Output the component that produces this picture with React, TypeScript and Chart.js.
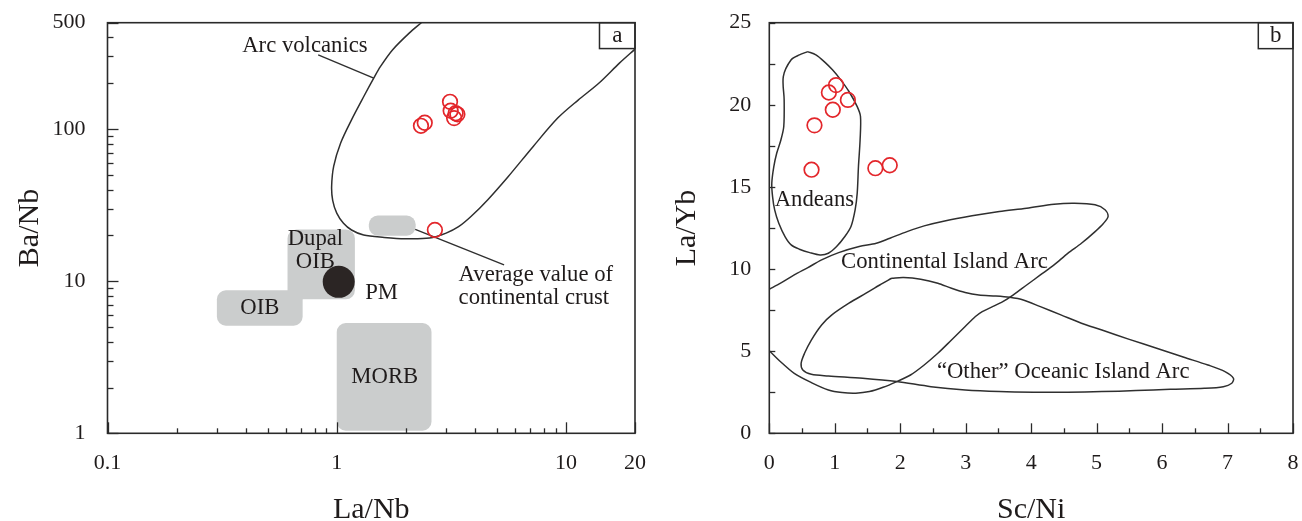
import { useEffect, useRef } from 'react';
import { Chart, registerables } from 'chart.js';

Chart.register(...registerables);

const SERIF = '"Liberation Serif", "Times New Roman", Times, serif';
const INK = '#1f1b1b';
const CURVE = '#2f2f2f';
const FRAME = '#2a2a2a';
const FIELD_GREY = '#cbcdcd';
const SAMPLE_RED = '#e3262b';
const PM_FILL = '#2b2524';

// ---------------- Panel a : Ba/Nb vs La/Nb (log-log) ----------------
const aXTicks = [0.1, 1, 10, 20];
const aXTickLabels = ['0.1', '1', '10', '20'];
const aXMinor = [0.2, 0.3, 0.4, 0.5, 0.6, 0.7, 0.8, 0.9, 2, 3, 4, 5, 6, 7, 8, 9];
const aYTicks = [1, 10, 100, 500];
const aYTickLabels = ['1', '10', '100', '500'];
const aYMinor = [2, 3, 4, 5, 6, 7, 8, 9, 20, 30, 40, 50, 60, 70, 80, 90, 200, 300, 400];

const arcVolcanics = [
  { x: 2.34, y: 500 }, { x: 2.07, y: 427 }, { x: 1.75, y: 331 }, { x: 1.55, y: 257 },
  { x: 1.45, y: 216 }, { x: 1.31, y: 163 }, { x: 1.16, y: 115 }, { x: 1.04, y: 81 },
  { x: 0.97, y: 57 }, { x: 0.95, y: 42 }, { x: 0.96, y: 34 }, { x: 1.0, y: 28 },
  { x: 1.07, y: 24 }, { x: 1.16, y: 21.7 }, { x: 1.31, y: 20.1 }, { x: 1.61, y: 19.4 },
  { x: 1.98, y: 19.0 }, { x: 2.54, y: 19.2 }, { x: 3.0, y: 20.7 }, { x: 3.4, y: 22.8 },
  { x: 3.85, y: 26.6 }, { x: 4.55, y: 34.2 }, { x: 5.59, y: 48.6 }, { x: 7.18, y: 76.6 },
  { x: 9.2, y: 118 }, { x: 11.3, y: 155 }, { x: 13.9, y: 200 }, { x: 17.1, y: 271 },
  { x: 20, y: 335 },
];
const samplesA = [
  { x: 3.12, y: 151 }, { x: 3.14, y: 132 }, { x: 3.3, y: 127 }, { x: 3.36, y: 125 },
  { x: 3.25, y: 118 }, { x: 2.33, y: 105 }, { x: 2.42, y: 110 }, { x: 2.68, y: 21.7 },
];
const primitiveMantle = [{ x: 1.02, y: 9.9 }];
const arcLeader = [{ x: 0.83, y: 307 }, { x: 1.45, y: 216 }];
const crustLeader = [{ x: 2.2, y: 21.9 }, { x: 5.37, y: 12.8 }];
const fieldsA = [
  { x0: 1.38, x1: 2.21, y0: 19.9, y1: 27.0 }, // average continental crust
  { x0: 0.61, x1: 1.2, y0: 7.6, y1: 21.9 }, // Dupal OIB
  { x0: 0.3, x1: 0.71, y0: 5.1, y1: 8.7 }, // OIB
  { x0: 1.0, x1: 2.59, y0: 1.04, y1: 5.3 }, // MORB
];
const labelsA = [
  { text: 'Arc volcanics', x: 0.387, y: 352, align: 'left' },
  { text: 'Dupal', x: 0.807, y: 18.9, align: 'center' },
  { text: 'OIB', x: 0.807, y: 13.4, align: 'center' },
  { text: 'OIB', x: 0.462, y: 6.7, align: 'center' },
  { text: 'PM', x: 1.33, y: 8.4, align: 'left' },
  { text: 'MORB', x: 1.62, y: 2.36, align: 'center' },
  { text: 'Average value of', x: 3.4, y: 11.0, align: 'left' },
  { text: 'continental crust', x: 3.4, y: 7.72, align: 'left' },
];
const panelA = { text: 'a', x0: 14.0, y0: 338 };

// ---------------- Panel b : La/Yb vs Sc/Ni (linear) ----------------
const bXTicks = [0, 1, 2, 3, 4, 5, 6, 7, 8];
const bXTickLabels = ['0', '1', '2', '3', '4', '5', '6', '7', '8'];
const bXMinor = [0.5, 1.5, 2.5, 3.5, 4.5, 5.5, 6.5, 7.5];
const bYTicks = [0, 5, 10, 15, 20, 25];
const bYTickLabels = ['0', '5', '10', '15', '20', '25'];
const bYMinor = [2.5, 7.5, 12.5, 17.5, 22.5];

const andeans = [
  { x: 0.586, y: 23.24 }, { x: 0.712, y: 23.04 }, { x: 0.839, y: 22.63 }, { x: 0.965, y: 22.13 },
  { x: 1.091, y: 21.52 }, { x: 1.217, y: 20.81 }, { x: 1.343, y: 19.89 }, { x: 1.393, y: 19.29 },
  { x: 1.387, y: 17.86 }, { x: 1.362, y: 16.24 }, { x: 1.343, y: 14.62 }, { x: 1.311, y: 13.6 },
  { x: 1.248, y: 12.59 }, { x: 1.154, y: 11.98 }, { x: 1.028, y: 11.37 }, { x: 0.902, y: 10.96 },
  { x: 0.776, y: 10.86 }, { x: 0.618, y: 11.0 }, { x: 0.46, y: 11.21 }, { x: 0.334, y: 11.47 },
  { x: 0.24, y: 11.98 }, { x: 0.145, y: 12.79 }, { x: 0.082, y: 13.6 }, { x: 0.05, y: 14.41 },
  { x: 0.038, y: 15.23 }, { x: 0.069, y: 16.24 }, { x: 0.113, y: 17.05 }, { x: 0.177, y: 17.86 },
  { x: 0.221, y: 18.68 }, { x: 0.227, y: 20.3 }, { x: 0.214, y: 21.72 }, { x: 0.334, y: 22.74 },
  { x: 0.46, y: 23.04 }, { x: 0.586, y: 23.24 },
];
const continentalArc = [
  { x: 0, y: 8.77 }, { x: 0.172, y: 9.14 }, { x: 0.381, y: 9.64 }, { x: 0.59, y: 10.09 },
  { x: 0.799, y: 10.56 }, { x: 1.06, y: 11.0 }, { x: 1.373, y: 11.37 }, { x: 1.634, y: 11.57 },
  { x: 1.843, y: 11.88 }, { x: 2.104, y: 12.28 }, { x: 2.366, y: 12.63 }, { x: 2.679, y: 12.93 },
  { x: 3.097, y: 13.24 }, { x: 3.514, y: 13.5 }, { x: 3.932, y: 13.7 }, { x: 4.35, y: 13.95 },
  { x: 4.663, y: 14.01 }, { x: 4.977, y: 13.91 }, { x: 5.133, y: 13.6 }, { x: 5.175, y: 13.2 },
  { x: 5.107, y: 12.79 }, { x: 4.977, y: 12.28 }, { x: 4.768, y: 11.57 }, { x: 4.559, y: 10.96 },
  { x: 4.35, y: 10.25 }, { x: 4.141, y: 9.64 }, { x: 3.932, y: 9.03 }, { x: 3.723, y: 8.42 },
  { x: 3.567, y: 8.02 }, { x: 3.41, y: 7.71 }, { x: 3.253, y: 7.41 }, { x: 3.149, y: 7.11 },
  { x: 2.992, y: 6.5 }, { x: 2.783, y: 5.68 }, { x: 2.574, y: 4.87 }, { x: 2.366, y: 4.16 },
  { x: 2.157, y: 3.55 }, { x: 1.948, y: 3.15 }, { x: 1.739, y: 2.8 }, { x: 1.53, y: 2.54 },
  { x: 1.321, y: 2.44 }, { x: 1.112, y: 2.48 }, { x: 0.903, y: 2.64 }, { x: 0.642, y: 3.09 },
  { x: 0.381, y: 3.65 }, { x: 0.172, y: 4.36 }, { x: 0, y: 5.03 },
];
const oceanicArc = [
  { x: 1.869, y: 9.44 }, { x: 2.052, y: 9.48 }, { x: 2.313, y: 9.38 }, { x: 2.574, y: 9.14 },
  { x: 2.783, y: 8.83 }, { x: 2.992, y: 8.57 }, { x: 3.201, y: 8.42 }, { x: 3.462, y: 8.36 },
  { x: 3.671, y: 8.28 }, { x: 3.88, y: 8.12 }, { x: 4.141, y: 7.71 }, { x: 4.454, y: 7.21 },
  { x: 4.768, y: 6.7 }, { x: 5.081, y: 6.29 }, { x: 5.499, y: 5.72 }, { x: 5.917, y: 5.18 },
  { x: 6.334, y: 4.63 }, { x: 6.7, y: 4.16 }, { x: 6.961, y: 3.76 }, { x: 7.091, y: 3.35 },
  { x: 7.065, y: 3.05 }, { x: 6.935, y: 2.84 }, { x: 6.647, y: 2.74 }, { x: 6.125, y: 2.68 },
  { x: 5.603, y: 2.6 }, { x: 5.081, y: 2.54 }, { x: 4.559, y: 2.5 }, { x: 4.037, y: 2.5 },
  { x: 3.514, y: 2.54 }, { x: 2.992, y: 2.64 }, { x: 2.47, y: 2.84 }, { x: 1.948, y: 3.15 },
  { x: 1.426, y: 3.35 }, { x: 0.903, y: 3.49 }, { x: 0.642, y: 3.59 }, { x: 0.512, y: 3.86 },
  { x: 0.486, y: 4.26 }, { x: 0.538, y: 4.87 }, { x: 0.642, y: 5.68 }, { x: 0.799, y: 6.6 },
  { x: 0.956, y: 7.21 }, { x: 1.217, y: 7.92 }, { x: 1.478, y: 8.53 }, { x: 1.687, y: 9.03 },
  { x: 1.869, y: 9.44 },
];
const samplesB = [
  { x: 1.02, y: 21.2 }, { x: 0.91, y: 20.75 }, { x: 1.2, y: 20.3 }, { x: 0.97, y: 19.7 },
  { x: 0.69, y: 18.75 }, { x: 0.645, y: 16.05 }, { x: 1.62, y: 16.14 }, { x: 1.84, y: 16.32 },
];
const labelsB = [
  { text: 'Andeans', x: 0.082, y: 14.2, align: 'left' },
  { text: 'Continental Island Arc', x: 1.097, y: 10.45, align: 'left' },
  { text: '\u201COther\u201D Oceanic Island Arc', x: 2.56, y: 3.75, align: 'left' },
];
const panelB = { text: 'b', x0: 7.47, y0: 23.42 };

// ---------------- drawing helpers ----------------
const decorPlugin = {
  id: 'decor',
  beforeDatasetsDraw(chart: any, _a: any, o: any) {
    const { ctx, chartArea: a, scales } = chart;
    const x = scales.x, y = scales.y;
    ctx.save();
    ctx.beginPath();
    ctx.rect(a.left, a.top, a.right - a.left, a.bottom - a.top);
    ctx.clip();
    ctx.fillStyle = FIELD_GREY;
    for (const f of o.fields || []) {
      const l = x.getPixelForValue(f.x0), r = x.getPixelForValue(f.x1);
      const t = y.getPixelForValue(f.y1), b = y.getPixelForValue(f.y0);
      ctx.beginPath();
      ctx.roundRect(l, t, r - l, b - t, 9);
      ctx.fill();
    }
    ctx.restore();
  },
  afterDatasetsDraw(chart: any, _a: any, o: any) {
    const { ctx, chartArea: a, scales } = chart;
    const x = scales.x, y = scales.y;
    ctx.save();
    // annotation labels
    ctx.fillStyle = INK;
    ctx.font = `22.7px ${SERIF}`;
    ctx.textBaseline = 'middle';
    for (const lb of o.labels) {
      ctx.textAlign = lb.align;
      ctx.fillText(lb.text, x.getPixelForValue(lb.x), y.getPixelForValue(lb.y));
    }
    // ticks (inward)
    ctx.strokeStyle = FRAME;
    ctx.lineWidth = 1.3;
    const tick = (sc: any, vals: number[], len: number, horiz: boolean) => {
      for (const v of vals) {
        const p = Math.round(sc.getPixelForValue(v)) + 0.5;
        ctx.beginPath();
        if (horiz) {
          ctx.moveTo(p, a.bottom);
          ctx.lineTo(p, a.bottom - len);
        } else {
          ctx.moveTo(a.left, p);
          ctx.lineTo(a.left + len, p);
        }
        ctx.stroke();
      }
    };
    tick(x, o.xMajor, o.xMajorLen, true);
    tick(x, o.xMinor, o.xMinorLen, true);
    tick(y, o.yMajor, o.yMajorLen, false);
    tick(y, o.yMinor, o.yMinorLen, false);
    // panel letter box
    const bl = x.getPixelForValue(o.panel.x0);
    const bb = y.getPixelForValue(o.panel.y0);
    ctx.fillStyle = '#ffffff';
    ctx.fillRect(bl, a.top, a.right - bl, bb - a.top);
    ctx.lineWidth = 1.5;
    ctx.strokeRect(bl, a.top, a.right - bl, bb - a.top);
    ctx.fillStyle = INK;
    ctx.textAlign = 'center';
    ctx.font = `23px ${SERIF}`;
    ctx.fillText(o.panel.text, (bl + a.right) / 2, (a.top + bb) / 2);
    // frame
    ctx.lineWidth = 1.6;
    ctx.strokeRect(a.left, a.top, a.right - a.left, a.bottom - a.top);
    // axis titles
    ctx.font = `30px ${SERIF}`;
    ctx.textBaseline = 'alphabetic';
    ctx.textAlign = 'center';
    ctx.fillText(o.xTitle, (a.left + a.right) / 2, a.bottom + o.xTitleGap);
    ctx.translate(a.left - o.yTitleGap, (a.top + a.bottom) / 2);
    ctx.rotate(-Math.PI / 2);
    ctx.fillText(o.yTitle, 0, 0);
    ctx.restore();
  },
};

function scaleOpts(type: string, min: number, max: number, ticks: number[], labels: string[], horiz: boolean, fitSize: number, pad: number) {
  return {
    type,
    min,
    max,
    bounds: 'data',
    grid: { display: false, drawTicks: false },
    border: { display: false },
    afterBuildTicks: (s: any) => {
      s.ticks = ticks.map((v) => ({ value: v }));
    },
    afterFit: (s: any) => {
      if (horiz) s.height = fitSize;
      else s.width = fitSize;
      s.paddingTop = 0;
      s.paddingBottom = 0;
      s.paddingLeft = 0;
      s.paddingRight = 0;
    },
    ticks: {
      autoSkip: false,
      maxRotation: 0,
      minRotation: 0,
      padding: pad,
      color: INK,
      font: { family: SERIF, size: 22 },
      callback: (_v: any, i: number) => labels[i],
    },
  };
}

function curve(data: any[]) {
  return {
    data,
    showLine: true,
    borderColor: CURVE,
    borderWidth: 1.5,
    pointRadius: 0,
    tension: 0.3,
    fill: false,
  };
}

function leader(data: any[]) {
  return { data, showLine: true, borderColor: CURVE, borderWidth: 1.4, pointRadius: 0, tension: 0, fill: false };
}

function samples(data: any[]) {
  return {
    data,
    showLine: false,
    pointRadius: 7.3,
    pointBorderWidth: 1.7,
    pointStyle: 'circle',
    borderColor: SAMPLE_RED,
    backgroundColor: 'rgba(0,0,0,0)',
  };
}

function configA(): any {
  return {
    type: 'scatter',
    data: {
      datasets: [
        samples(samplesA),
        { data: primitiveMantle, pointRadius: 16, pointBorderWidth: 0, backgroundColor: PM_FILL, borderColor: PM_FILL },
        curve(arcVolcanics),
        leader(arcLeader),
        leader(crustLeader),
      ],
    },
    options: {
      animation: false,
      responsive: false,
      devicePixelRatio: 1,
      events: [],
      layout: { padding: { left: 0, right: 14.5, top: 22.7, bottom: 0 } },
      plugins: {
        legend: { display: false },
        tooltip: { enabled: false },
        decor: {
          fields: fieldsA,
          labels: labelsA,
          panel: panelA,
          xMajor: aXTicks, xMinor: aXMinor, yMajor: aYTicks, yMinor: aYMinor,
          xMajorLen: 11, xMinorLen: 5, yMajorLen: 11, yMinorLen: 6,
          xTitle: 'La/Nb', yTitle: 'Ba/Nb', xTitleGap: 85, yTitleGap: 70,
        },
      },
      scales: {
        x: scaleOpts('logarithmic', 0.1, 20, aXTicks, aXTickLabels, true, 87.7, 16.5),
        y: scaleOpts('logarithmic', 1, 500, aYTicks, aYTickLabels, false, 107.5, 22),
      },
    },
    plugins: [decorPlugin],
  };
}

function configB(): any {
  return {
    type: 'scatter',
    data: {
      datasets: [
        samples(samplesB),
        curve(andeans),
        curve(continentalArc),
        curve(oceanicArc),
      ],
    },
    options: {
      animation: false,
      responsive: false,
      devicePixelRatio: 1,
      events: [],
      layout: { padding: { left: 0, right: 5.3, top: 22.7, bottom: 0 } },
      plugins: {
        legend: { display: false },
        tooltip: { enabled: false },
        decor: {
          fields: [],
          labels: labelsB,
          panel: panelB,
          xMajor: bXTicks, xMinor: bXMinor, yMajor: bYTicks, yMinor: bYMinor,
          xMajorLen: 10, xMinorLen: 5, yMajorLen: 6, yMinorLen: 6,
          xTitle: 'Sc/Ni', yTitle: 'La/Yb', xTitleGap: 85, yTitleGap: 74.5,
        },
      },
      scales: {
        x: scaleOpts('linear', 0, 8, bXTicks, bXTickLabels, true, 87.7, 16.5),
        y: scaleOpts('linear', 0, 25, bYTicks, bYTickLabels, false, 118.3, 18),
      },
    },
    plugins: [decorPlugin],
  };
}

function Panel({ make, left }: { make: () => any; left: number }) {
  const ref = useRef<HTMLCanvasElement>(null);
  useEffect(() => {
    const chart = new Chart(ref.current as HTMLCanvasElement, make());
    return () => chart.destroy();
  }, [make]);
  return (
    <canvas
      ref={ref}
      width={651}
      height={521}
      style={{ position: 'absolute', left, top: 0, width: 651, height: 521 }}
    />
  );
}

export default function App() {
  return (
    <div style={{ position: 'fixed', left: 0, top: 0, width: 1302, height: 521, background: '#ffffff', overflow: 'hidden' }}>
      <Panel make={configA} left={0} />
      <Panel make={configB} left={651} />
    </div>
  );
}
